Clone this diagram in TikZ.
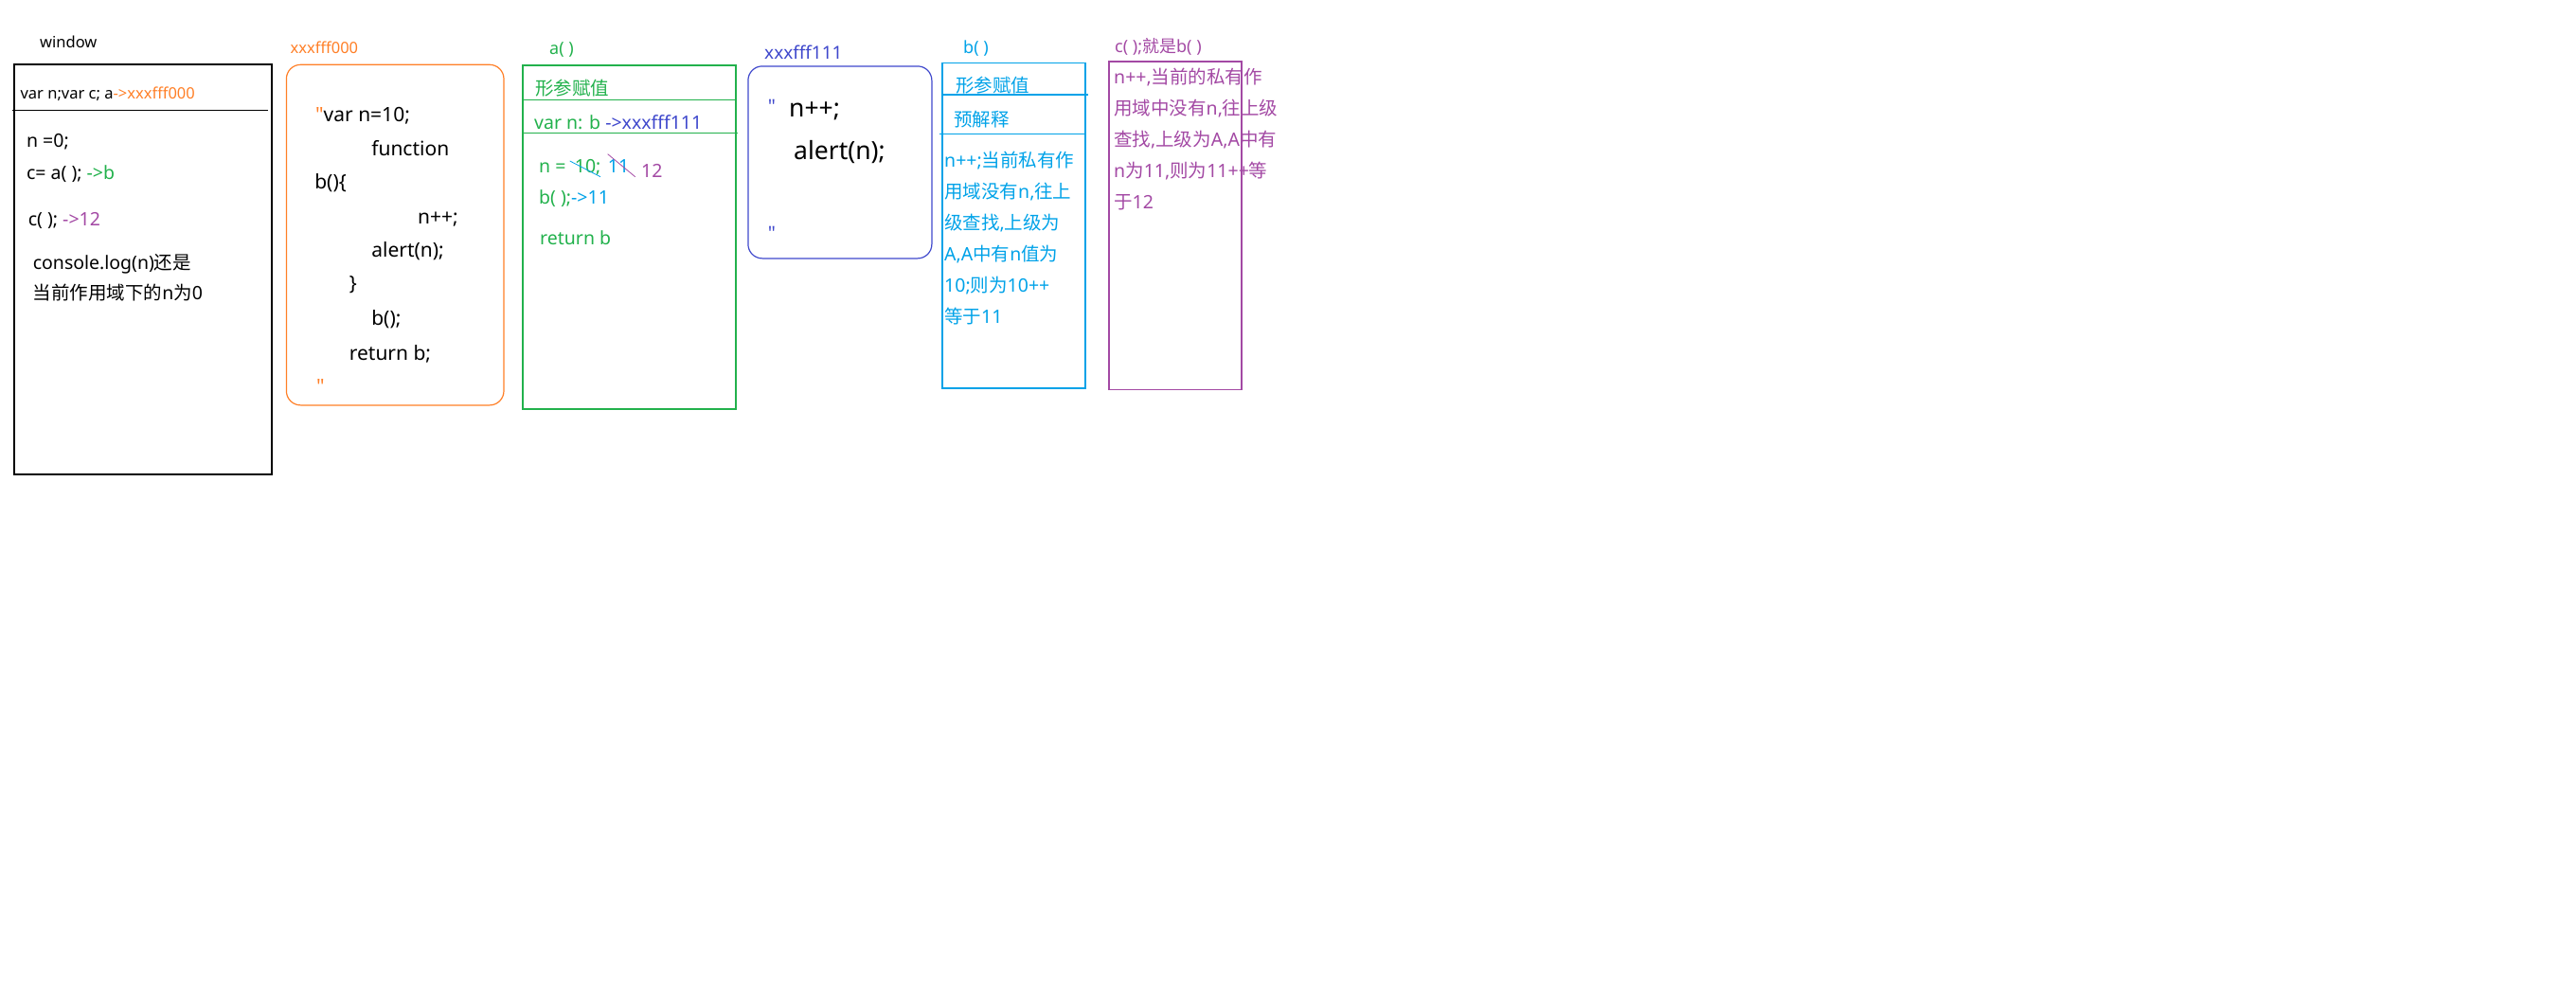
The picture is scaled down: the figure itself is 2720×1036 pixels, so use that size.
\documentclass[tikz,border=0pt]{standalone}
\usepackage{fontspec}
\setmainfont{Noto Sans}[Ligatures=TeXOff]
\newfontfamily\cjkfont{Noto Sans CJK SC}[Ligatures=TeXOff]
\usepackage{tikz}
\usetikzlibrary{positioning}
% Chinese characters switch to the CJK family, Latin stays in Noto Sans
\XeTeXinterchartokenstate=1
\newXeTeXintercharclass\cjkclass
\newcount\cjkcode
\cjkcode="4E00
\loop
  \XeTeXcharclass\cjkcode=\cjkclass
  \ifnum\cjkcode<"9FFF \advance\cjkcode by 1 \repeat
\XeTeXinterchartoks 0 \cjkclass = {\cjkfont}
\XeTeXinterchartoks 4095 \cjkclass = {\cjkfont}
\XeTeXinterchartoks \cjkclass 0 = {\normalfont}
\definecolor{pntorange}{RGB}{255,127,39}
\definecolor{pntgreen}{RGB}{34,177,76}
\definecolor{pntblue}{RGB}{0,162,232}
\definecolor{pntindigo}{RGB}{63,72,204}
\definecolor{pntpurple}{RGB}{163,73,164}
\newcommand\sz[1]{\fontsize{#1}{#1}\selectfont}
\newcommand\memtext[4][]{%
  \node[txt,#1] (#2) at (#3) {#4};
}

\begin{document}
\begin{tikzpicture}[
x=1pt,y=-1pt,
memory/.style={
  draw,
  line width=1.2pt,
  anchor=north west,
  inner sep=0pt},
txt/.style={anchor=base west,inner sep=0pt,font=\sz{19.5}},
lbl/.style={txt,font=\sz{18}},
code/.style={txt,font=\sz{21}}
]
\useasboundingbox (0,0) rectangle (2720,1036);

% boxes
\node[memory,line width=1.5pt,minimum width=272.1pt,minimum height=432.7pt] (win) at (14.3,67.3) {};
\node[memory,draw=pntorange,rounded corners=15pt,minimum width=229.6pt,minimum height=359.6pt] (fff000) at (301.8,67.7) {};
\node[memory,draw=pntgreen,minimum width=225pt,minimum height=363pt] (afun) at (551.3,68.3) {};
\node[memory,draw=pntindigo,rounded corners=15pt,minimum width=194pt,minimum height=203pt] (fff111) at (789.3,69.3) {};
\node[memory,draw=pntblue,minimum width=151pt,minimum height=343.6pt] (bfun) at (994.3,65.7) {};
\node[memory,draw=pntpurple,minimum width=140pt,minimum height=346.7pt] (cfun) at (1170.3,64.3) {};

% window
\memtext[lbl,font=\sz{16.5}]{winlbl}{42,50}{window}
\memtext[font=\sz{16.5}]{winhead}{21.4,104}{var n;var c; a{\color{pntorange}->xxxfff000}}
\draw[line width=1.2pt] (13.2,116.3) -- (282.9,116.3);
\memtext{w1}{27.9,155.7}{n =0;}
\memtext{w2}{27.9,189}{c= a( ); {\color{pntgreen}->b}}
\memtext{w3}{29.6,238}{c( ); {\color{pntpurple}->12}}
\memtext{w4}{34.6,284}{console.log(n)还是}
\memtext{w5}{34.6,316.7}{当前作用域下的n为0}

% heap xxxfff000
\memtext[lbl,pntorange,font=\sz{16.5}]{lbl000}{306.4,56}{xxxfff000}
\memtext[code]{c1}{332.9,128}{{\color{pntorange}"}var n=10;}
\memtext[code]{c2}{392.1,164}{function}
\memtext[code]{c3}{332.1,199}{b()\{}
\memtext[code]{c4}{441,236}{n++;}
\memtext[code]{c5}{392.1,271.7}{alert(n);}
\memtext[code]{c6}{368.6,306.7}{\}}
\memtext[code]{c7}{392.1,343.3}{b();}
\memtext[code]{c8}{368.6,380}{return b;}
\memtext[code,pntorange]{c9}{334,415}{"}

% a()
\memtext[lbl,pntgreen]{albl}{580,57.3}{a( )}
\draw[pntgreen,line width=1.2pt] (551.3,105.3) -- (777.7,105.3);
\draw[pntgreen,line width=1.2pt] (551.3,140.3) -- (779,140.3);
\memtext[pntgreen]{a1}{565,100}{形参赋值}
\memtext[pntgreen]{a2}{564,136}{var n: b {\color{pntindigo}->xxxfff111}}
\memtext[pntgreen]{a3}{569,182.7}{n =}
\memtext[pntgreen]{a4}{606.7,182.7}{10;}
\memtext[pntblue]{a5}{641.7,182.7}{11}
\memtext[pntpurple]{a6}{677,187.3}{12}
\draw[pntblue,line width=0.8pt] (601.7,170) -- (634,186.7);
\draw[pntpurple,line width=0.8pt] (641.7,162.7) -- (670.7,186.7);
\memtext[pntgreen]{a7}{569,215}{b( );{\color{pntblue}->11}}
\memtext[pntgreen]{a8}{570,258.7}{return b}

% heap xxxfff111
\memtext[pntindigo,font=\sz{19}]{lbl111}{807,62.7}{xxxfff111}
\memtext[pntindigo,font=\sz{20}]{q1}{810.7,119.5}{"}
\memtext[font=\sz{26.5}]{d1}{833,123.3}{n++;}
\memtext[font=\sz{26.5}]{d2}{838,168.3}{alert(n);}
\memtext[pntindigo,font=\sz{20}]{q2}{810.7,253.5}{"}

% b()
\memtext[lbl,pntblue]{blbl}{1017,56}{b( )}
\draw[pntblue,line width=1.2pt] (994.3,100) -- (1149,100);
\draw[pntblue,line width=1.2pt] (992,141.3) -- (1146.7,141.3);
\memtext[pntblue]{b1}{1009,97}{形参赋值}
\memtext[pntblue]{b2}{1007,133.5}{预解释}
\foreach \t [count=\i from 0] in {n++;当前私有作,{用域没有n,往上},{级查找,上级为},{A,A中有n值为},10;则为10++,等于11}
  \node[txt,pntblue] (bt\i) at (997,176.7+33*\i) {\t};

% c()
\memtext[lbl,pntpurple]{clbl}{1177,55}{c( );就是b( )}
\foreach \t [count=\i from 0] in {{n++,当前的私有作},{用域中没有n,往上级},{查找,上级为A,A中有},{n为11,则为11++等},于12}
  \node[txt,pntpurple] (ct\i) at (1176,88.3+33*\i) {\t};
\end{tikzpicture}
\end{document}
